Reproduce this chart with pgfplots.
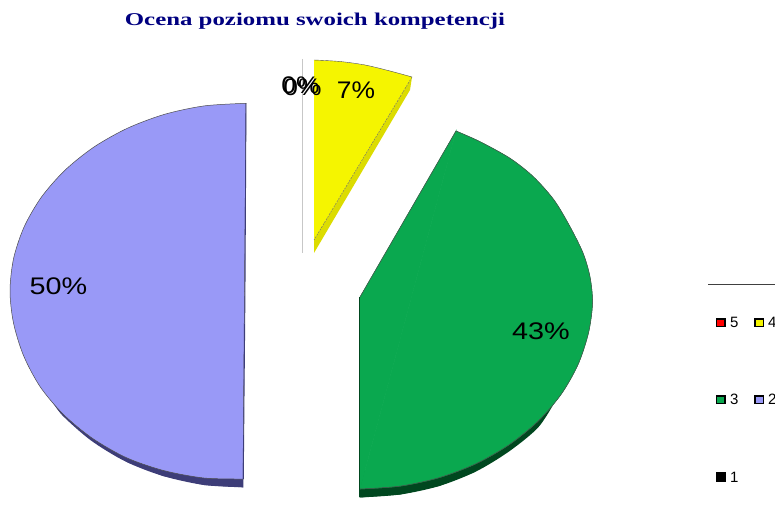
\documentclass[border=0pt]{standalone}
\usepackage{pgfplots}
\usepackage{fontspec}
\pgfplotsset{compat=1.18}
\setmainfont{Liberation Sans}
\newfontfamily\titlefont{Liberation Serif}
\definecolor{pPurple}{HTML}{9999F7}
\definecolor{pPurpleD}{HTML}{3D3D78}
\definecolor{pGreen}{HTML}{0AA84F}
\definecolor{pGreenD}{HTML}{00471F}
\definecolor{pYellow}{HTML}{F5F500}
\definecolor{pYellowD}{HTML}{DCDC00}
\definecolor{pNavy}{HTML}{000080}
\begin{document}
\begin{tikzpicture}
\clip (0,0) rectangle (775pt,510pt);
\begin{axis}[
  at={(0,0)}, anchor=south west,
  scale only axis, width=775pt, height=510pt,
  xmin=0, xmax=775, ymin=0, ymax=510, y dir=reverse,
  hide axis,
]
% grey leader line
\addplot[color=black!22, line width=1pt] coordinates {(302,59) (302,253)};
% sides (lower rims)
\addplot[smooth, fill=pPurpleD, draw=none] coordinates {
 (50,398) (62,415) (91,440.5) (125.5,461.5) (163,476) (204,485) (243.3,487.3)} --cycle;
\addplot[fill=pPurpleD, draw=none] coordinates {(243.3,470) (243.3,487.3) (204,485) (163,476) (125.5,461.5)} --cycle;
\addplot[smooth, fill=pGreenD, draw=none] coordinates {
 (553,405) (537.7,428) (509,451.5) (476,471.5) (439.3,486) (400.3,494.5) (359.5,497.5)} --cycle;
\addplot[fill=pGreenD, draw=none] coordinates {(359.5,470) (359.5,497.5) (400.3,494.5) (439.3,486) (476,471.5)} --cycle;
\addplot[fill=pYellowD, draw=none] coordinates {(314,240) (412,77) (410,90) (314,253)} --cycle;
% purple face 50%
\addplot[smooth, fill=pPurple, draw=black!70, line width=0.5pt] coordinates {
 (246,103.3) (204.2,105.9) (164.6,114.3) (127.5,128.2) (94,147) (65,170.2)
 (41.5,197) (24.2,226.7) (13.6,258.4) (10,291) (13.5,323) (23.5,355.5)
 (40,386.5) (63,414) (92,438) (126,457.5) (163.5,470.5) (204,478) (243,479)} --cycle;
\addplot[color=pPurpleD, line width=0.9pt] coordinates {(246,103.3) (245,290) (243.3,479)};
% green face 43%
\addplot[fill=pGreen, draw=pGreen, line width=0.5pt] coordinates {(360,297) (456,131) (360,489)} --cycle;
\addplot[smooth, fill=pGreen, draw=pGreen, line width=0.5pt] coordinates {
 (456,131) (480,141.7) (510,158.3) (533.3,176.7) (554,200) (570,226.7) (583,253)
 (590,277) (592.5,303) (588.5,332.8) (578,364.6) (561,394.5) (537.7,421.5) (509,444.8)
 (476,463.7) (439.3,477.6) (400.3,486.1) (360,489)} --cycle;
\addplot[smooth, color=black!70, line width=0.5pt] coordinates {
 (456,131) (480,141.7) (510,158.3) (533.3,176.7) (554,200) (570,226.7) (583,253)
 (590,277) (592.5,303) (588.5,332.8) (578,364.6) (561,394.5) (537.7,421.5) (509,444.8)
 (476,463.7) (439.3,477.6) (400.3,486.1) (360,489)};
\addplot[color=black!70, line width=0.5pt] coordinates {(456,131) (360,297)};
\addplot[color=pGreenD, line width=1.6pt] coordinates {(359.5,297) (359.5,497)};
% yellow face 7%
\addplot[fill=pYellow, draw=none] coordinates {
 (314,60) (340,61.5) (365,65) (390,71) (412,77) (314,240)} --cycle;
\addplot[smooth, color=black!70, line width=0.4pt] coordinates {
 (314,60) (340,61.5) (365,65) (390,71) (412,77)};
\addplot[color=black!60, line width=0.4pt, dash pattern=on 2pt off 1pt] coordinates {(412,77) (314,240)};
% legend
\addplot[color=black!75, line width=0.8pt] coordinates {(708,284) (775,284)};
\addplot[fill=red, draw=black, line width=1.3pt] coordinates {(716.5,319) (725,319) (725,326.5) (716.5,326.5)} --cycle;
\addplot[fill=pYellow, draw=black, line width=1.3pt] coordinates {(755,319) (763.5,319) (763.5,326.5) (755,326.5)} --cycle;
\addplot[fill=pGreen, draw=black, line width=1.3pt] coordinates {(716.5,396) (725,396) (725,403.5) (716.5,403.5)} --cycle;
\addplot[fill=pPurple, draw=black, line width=1.3pt] coordinates {(755,396) (763.5,396) (763.5,403.5) (755,403.5)} --cycle;
\addplot[fill=black, draw=black, line width=1.3pt] coordinates {(716.5,473) (725,473) (725,481) (716.5,481)} --cycle;
% texts
\node[anchor=center, text=pNavy, inner sep=0pt, font=\titlefont\bfseries\fontsize{18}{20}\selectfont, xscale=1.38] at (axis cs:315,21) {Ocena poziomu swoich kompetencji};
\node[font=\fontsize{24}{28}\selectfont, xscale=1.2, inner sep=0pt] at (axis cs:58.5,286.5) {50\%};
\node[font=\fontsize{24}{28}\selectfont, xscale=1.2, inner sep=0pt] at (axis cs:541,331) {43\%};
\node[font=\fontsize{24}{28}\selectfont, xscale=1.1, inner sep=0pt] at (axis cs:356,90) {7\%};
\node[font=\fontsize{24}{28}\selectfont, xscale=1.1, inner sep=0pt] at (axis cs:300.5,85.5) {0\%};
\node[font=\fontsize{24}{28}\selectfont, xscale=1.1, inner sep=0pt] at (axis cs:302.5,87) {0\%};
\node[font=\fontsize{15}{16}\selectfont, anchor=west, inner sep=0pt] at (axis cs:730,322) {5};
\node[font=\fontsize{15}{16}\selectfont, anchor=west, inner sep=0pt] at (axis cs:768,322) {4};
\node[font=\fontsize{15}{16}\selectfont, anchor=west, inner sep=0pt] at (axis cs:730,399.5) {3};
\node[font=\fontsize{15}{16}\selectfont, anchor=west, inner sep=0pt] at (axis cs:768,399.5) {2};
\node[font=\fontsize{15}{16}\selectfont, anchor=west, inner sep=0pt] at (axis cs:730,477) {1};
\end{axis}
\end{tikzpicture}
\end{document}
